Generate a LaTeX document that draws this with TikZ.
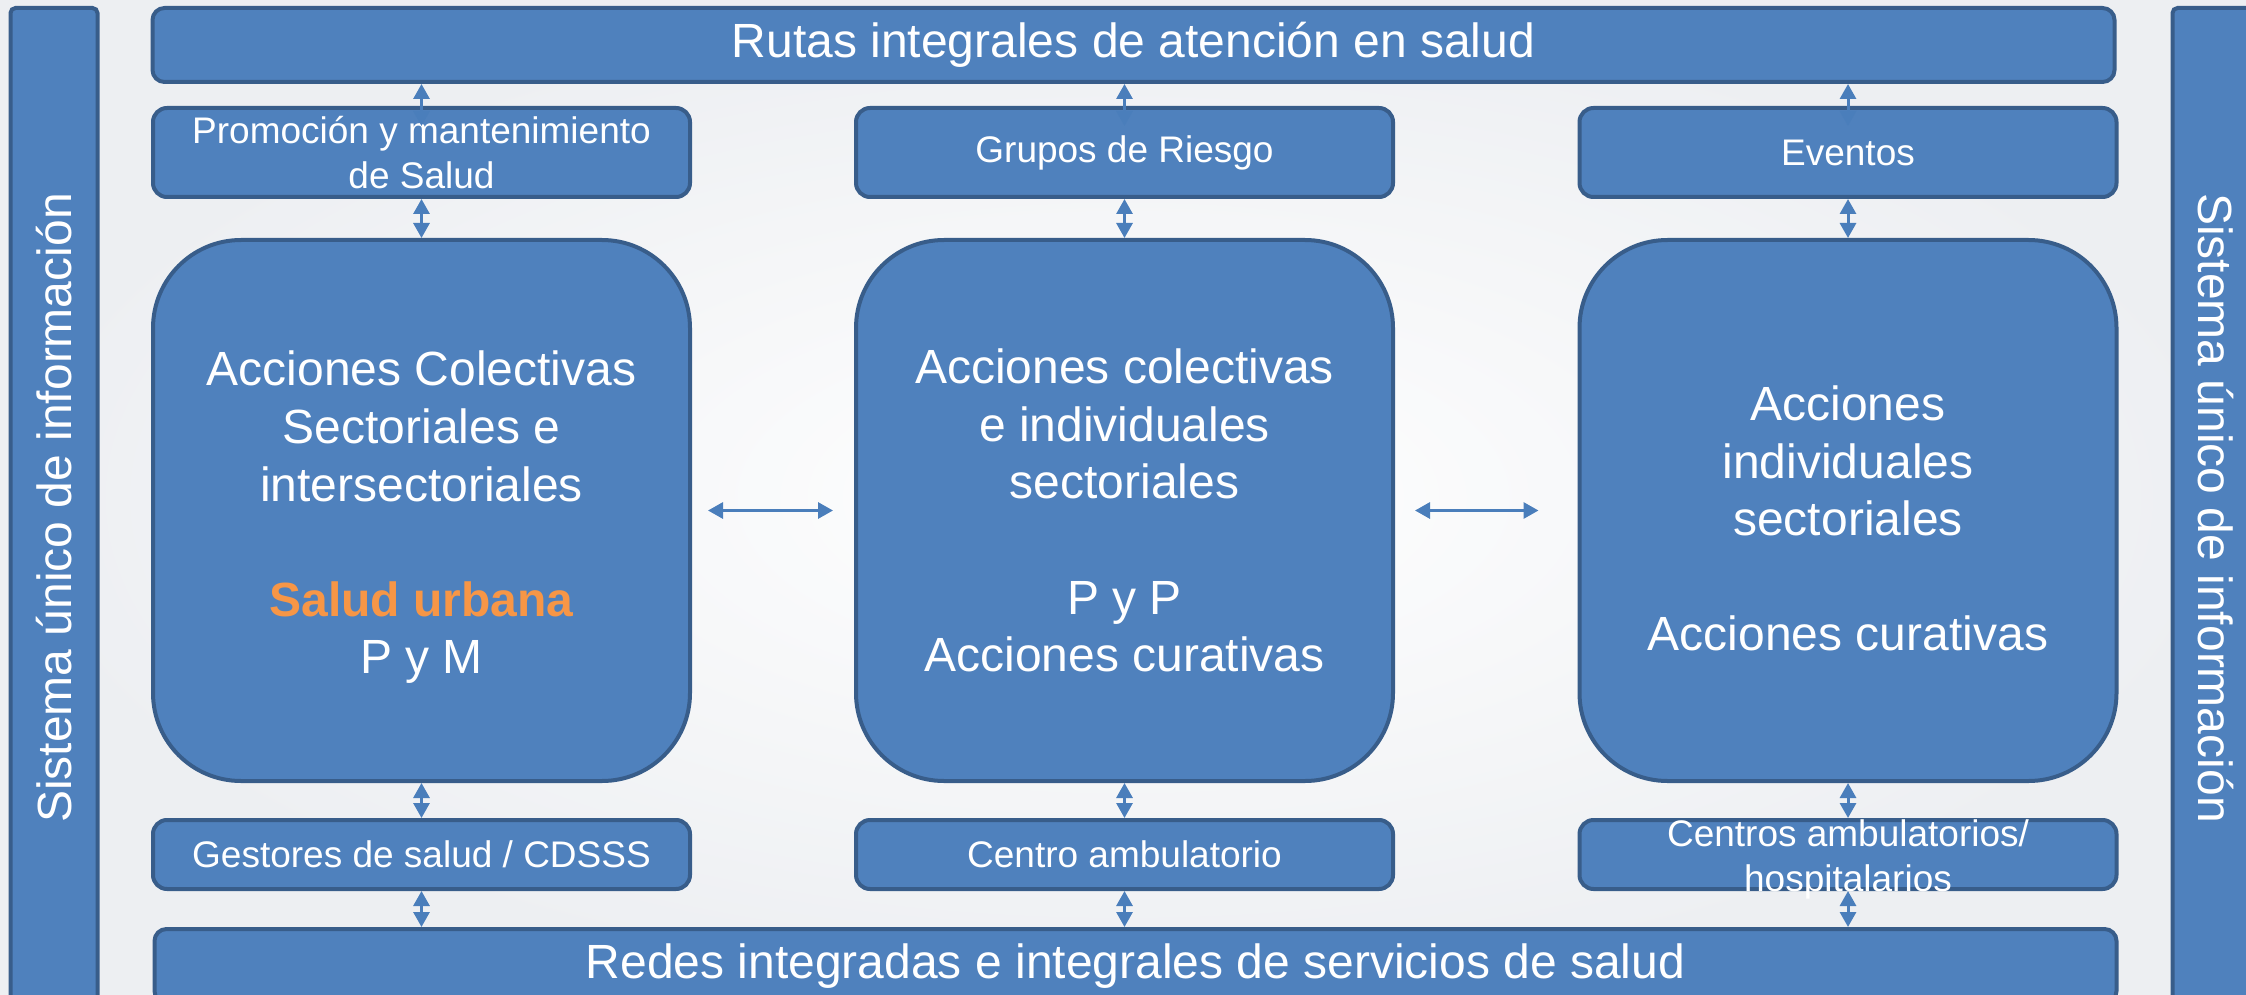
\documentclass[tikz,border=0pt]{standalone}
\usepackage{fontspec}
\setmainfont{Liberation Sans}
\usetikzlibrary{arrows.meta,calc}
\definecolor{boxfill}{HTML}{4F81BD}
\definecolor{boxline}{HTML}{385D8A}
\definecolor{arrowblue}{HTML}{4A7EBB}
\definecolor{orangetxt}{HTML}{F79646}
\definecolor{bgedge}{HTML}{EDEFF2}
\begin{document}
\begin{tikzpicture}[x=1pt,y=-1pt,
  box/.style={draw=boxline, fill=boxfill, line width=4pt, rounded corners=14pt, inner sep=0pt, text=white, align=center},
  bigbox/.style={box, rounded corners=88pt, minimum width=537pt, minimum height=541pt, font=\fontsize{48}{57.6}\selectfont},
  bigtext/.style={inner sep=0pt, text=white, align=center, font=\fontsize{48}{57.6}\selectfont},
  smallbox/.style={box, minimum width=537pt, minimum height=89pt, font=\fontsize{37}{44.4}\selectfont},
  lowbox/.style={box, minimum width=537pt, minimum height=69pt, font=\fontsize{37}{44.4}\selectfont},
  lowtext/.style={inner sep=0pt, text=white, align=center, font=\fontsize{37}{44.4}\selectfont},
  bigbar/.style={box, rounded corners=12pt, minimum width=1962pt, minimum height=74pt, font=\fontsize{48}{57.6}\selectfont},
  sidebar/.style={box, rounded corners=5pt, minimum width=1000pt, minimum height=87pt, font=\fontsize{48}{57.6}\selectfont},
  biarrow/.style={draw=arrowblue, line width=3pt, {Triangle[width=16pt,length=15pt]}-{Triangle[width=16pt,length=15pt]}}
]
\useasboundingbox (0,0) rectangle (2246,995);
\clip (0,0) rectangle (2246,995);
\shade[inner color=white, outer color=bgedge] (0,0) rectangle (2246,995);

% side bars
\node[sidebar, rotate=90] (lbar) at (54,508) {Sistema único de información};
\node[sidebar, rotate=-90] (rbar) at (2216,508) {Sistema único de información};

% top and bottom bars
\node[bigbar] (rutas) at (1133.5,45) {Rutas integrales de atención en salud};
\node[bigbar] (redes) at (1135.5,966) {Redes integradas e integrales de servicios de salud};

% upper small boxes
\node[smallbox] (promo) at (421.5,152.5) {Promoción y mantenimiento\\de Salud};
\node[smallbox] (grupos) at (1124.5,152.5) {Grupos de Riesgo};
\node[smallbox] (eventos) at (1848,152.5) {Eventos};

% big boxes
\node[bigbox] (bigL) at (421.5,510.5) {};
\node[bigtext] (bigLtxt) at ($(bigL.center)+(0,7)$) {Acciones Colectivas\\Sectoriales e\\intersectoriales\\[57.6pt]{\bfseries\color{orangetxt}Salud urbana}\\P y M};
\node[bigbox] (bigM) at (1124.5,510.5) {Acciones colectivas\\e individuales\\sectoriales\\[57.6pt]P y P\\Acciones curativas};
\node[bigbox] (bigR) at (1848,510.5) {};
\node[bigtext] (bigRtxt) at ($(bigR.center)+(0,8)$) {Acciones\\individuales\\sectoriales\\[57.6pt]Acciones curativas};

% lower small boxes
\node[lowbox] (gestores) at (421.5,854.5) {Gestores de salud / CDSSS};
\node[lowbox] (centro) at (1124.5,854.5) {Centro ambulatorio};
\node[lowbox] (centros) at (1848,854.5) {};
\node[lowtext] (centrostxt) at ($(centros.center)+(0,5)$) {Centros ambulatorios/\\hospitalarios};

% vertical arrows
\foreach \s/\b/\l in {promo/bigL/gestores, grupos/bigM/centro, eventos/bigR/centros}{
  \draw[biarrow] (rutas.south -| \s.north) -- ($(\s.north)+(0,20)$);
  \draw[biarrow] (\s.south) -- (\b.north);
  \draw[biarrow] (\b.south) -- (\l.north);
  \draw[biarrow] (\l.south) -- (redes.north -| \l.south);
}

% horizontal arrows
\draw[biarrow] ($(bigL.east)+(16,0)$) -- ($(bigM.west)+(-21,0)$);
\draw[biarrow] ($(bigM.east)+(20,0)$) -- ($(bigR.west)+(-39,0)$);
\end{tikzpicture}
\end{document}
